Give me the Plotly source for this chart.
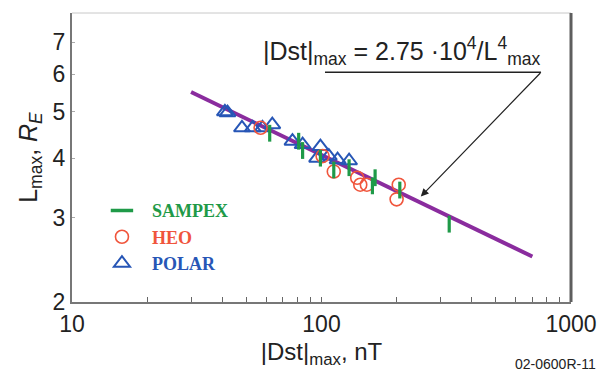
import plotly.graph_objects as go
import numpy as np

# ---- data ----
sampex_dst = [62, 81, 84, 99, 112, 129, 160, 164, 206, 325]
sampex_L = [4.51, 4.34, 4.15, 4.0, 3.78, 3.82, 3.50, 3.64, 3.43, 2.91]

heo_dst = [57, 101, 112, 139, 143, 152, 204, 200]
heo_L = [4.63, 4.04, 3.75, 3.64, 3.52, 3.52, 3.52, 3.28]

polar_dst = [41, 42, 48, 53, 58, 63.5, 76.5, 84, 96, 99, 107, 116, 129]
polar_L = [5.0, 4.98, 4.63, 4.63, 4.63, 4.70, 4.34, 4.27, 4.0, 4.23, 4.04, 3.97, 3.95]

fit_dst = [30, 700]
fit_L = [5.5, 2.49]

x_major = [10, 100, 1000]
x_minor = [m * d for d in (10, 100) for m in range(2, 10)]
y_ticks = [2, 3, 4, 5, 6, 7]

GREEN = "#1f9a48"
RED = "#f0553c"
BLUE = "#2756b6"
PURPLE = "#8a2c9e"

fig = go.Figure()

fig.add_trace(go.Scatter(x=fit_dst, y=fit_L, mode="lines",
                         line=dict(color=PURPLE, width=4), showlegend=False,
                         hoverinfo="skip"))

fig.add_trace(go.Scatter(x=polar_dst, y=polar_L, mode="markers", name="POLAR",
                         marker=dict(symbol="triangle-up-open", size=14,
                                     color=BLUE, line=dict(width=2, color=BLUE)),
                         showlegend=False))
fig.add_trace(go.Scatter(x=heo_dst, y=heo_L, mode="markers", name="HEO",
                         marker=dict(symbol="circle-open", size=13,
                                     color=RED, line=dict(width=1.6, color=RED)),
                         showlegend=False))
fig.add_trace(go.Scatter(x=sampex_dst, y=sampex_L, mode="markers", name="SAMPEX",
                         marker=dict(symbol="line-ns", size=12,
                                     color=GREEN, line=dict(width=3.2, color=GREEN)),
                         showlegend=False))

# legend entries
fig.add_trace(go.Scatter(x=[None], y=[None], mode="markers",
                         name=f"<span style='color:{GREEN}'><b>SAMPEX</b></span>",
                         marker=dict(symbol="line-ew", size=18, color=GREEN,
                                     line=dict(width=3.5, color=GREEN))))
fig.add_trace(go.Scatter(x=[None], y=[None], mode="markers",
                         name=f"<span style='color:{RED}'><b>HEO</b></span>",
                         marker=dict(symbol="circle-open", size=13, color=RED,
                                     line=dict(width=1.6, color=RED))))
fig.add_trace(go.Scatter(x=[None], y=[None], mode="markers",
                         name=f"<span style='color:{BLUE}'><b>POLAR</b></span>",
                         marker=dict(symbol="triangle-up-open", size=14, color=BLUE,
                                     line=dict(width=2, color=BLUE))))

fig.update_layout(
    width=609, height=373,
    margin=dict(l=71.5, r=34, t=12.5, b=70),
    paper_bgcolor="white", plot_bgcolor="white",
    font=dict(family="Liberation Sans, Arial, sans-serif", color="#222"),
    xaxis=dict(type="log", range=[1, 3], tickvals=x_major,
               ticktext=[str(v) for v in x_major],
               ticks="inside", ticklen=5, tickwidth=1, tickcolor="#666",
               minor=dict(tickvals=x_minor, ticks="inside", ticklen=5,
                          tickwidth=1, tickcolor="#666", showgrid=False),
               showline=True, linecolor="#777", linewidth=2,
               showgrid=False, zeroline=False,
               tickfont=dict(size=23, color="#222"),
               title=dict(text="|Dst|<sub>max</sub>, nT", font=dict(size=24, color="#222"),
                          standoff=8)),
    yaxis=dict(type="log", range=[np.log10(2), np.log10(8.05)], tickvals=y_ticks,
               ticktext=[str(v) for v in y_ticks],
               ticks="inside", ticklen=3, tickwidth=1, tickcolor="#aaa",
               showline=True, linecolor="#777", linewidth=2,
               showgrid=False, zeroline=False,
               tickfont=dict(size=23, color="#222"),
               title=dict(text="L<sub>max</sub>, <i>R<sub>E</sub></i>",
                          font=dict(size=25, color="#222"), standoff=8)),
    legend=dict(x=0.04, y=0.38, xanchor="left", yanchor="top",
                bgcolor="rgba(0,0,0,0)", itemwidth=50,
                font=dict(family="Liberation Serif, Times New Roman, serif", size=18),
                tracegroupgap=0, itemsizing="trace"),
    shapes=[
        dict(type="line", xref="paper", yref="paper", x0=0, x1=1, y0=1, y1=1,
             line=dict(color="#c8c8c8", width=1)),
        dict(type="line", xref="paper", yref="paper", x0=1, x1=1, y0=0, y1=1,
             line=dict(color="#5e5e5e", width=3)),
        dict(type="line", xref="paper", yref="paper", x0=0.507, x1=0.94,
             y0=0.795, y1=0.795, line=dict(color="#222", width=1.3)),
    ],
    annotations=[
        dict(xref="paper", yref="paper", x=0.66, y=0.87, showarrow=False,
             text="|Dst|<sub>max</sub> = 2.75 ·10<sup>4</sup>/L<sup>4</sup><sub>max</sub>",
             font=dict(size=25, color="#222"), xanchor="center", yanchor="middle"),
        dict(xref="paper", yref="paper", x=0.699, y=0.365, ax=121, ay=-125,
             showarrow=True, arrowhead=2, arrowsize=1.3, arrowwidth=1.2,
             arrowcolor="#222", text=""),
        dict(xref="paper", yref="paper", x=1.055, y=-0.213, showarrow=False,
             text="02-0600R-11", font=dict(size=14, color="#222"),
             xanchor="right", yanchor="middle"),
    ],
)

fig.write_html("out.html")
